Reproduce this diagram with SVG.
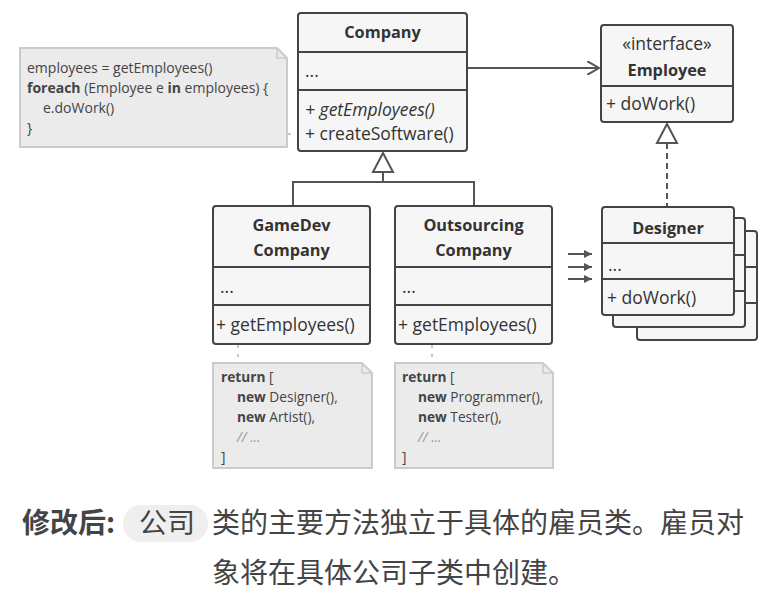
<svg xmlns="http://www.w3.org/2000/svg" width="767" height="597" viewBox="0 0 767 597">
<defs>
<style>
.box{fill:#f6f6f6;stroke:#444;stroke-width:2}
.div{stroke:#444;stroke-width:2;fill:none}
.ln{stroke:#555;stroke-width:2;fill:none}
.note{fill:#ebebeb;stroke:#cbcbcb;stroke-width:2}
.t{font-family:"Open Sans","Noto Sans",sans-serif;font-size:17.5px;fill:#333}
.b{font-weight:bold;font-size:16.3px}
.it{font-style:italic}
.n{font-family:"Open Sans","Noto Sans",sans-serif;font-size:14px;fill:#444}
.nb{font-size:13.7px}
.nb .b,.n .b{font-size:inherit}
.g{fill:#999;font-style:italic}
.cap{font-family:"Noto Sans CJK SC","Noto Sans",sans-serif;font-size:28px;fill:#444}
.dot{stroke:#c8c8c8;stroke-width:2;stroke-dasharray:3 6;fill:none}
</style>
<marker id="open" markerWidth="14" markerHeight="14" refX="12" refY="7" orient="auto" markerUnits="userSpaceOnUse">
<path d="M0,0 L12,7 L0,14" fill="none" stroke="#555" stroke-width="2"/>
</marker>
<marker id="small" markerWidth="8" markerHeight="8" refX="8" refY="4" orient="auto" markerUnits="userSpaceOnUse">
<path d="M0,0 L8,4 L0,8 z" fill="#555"/>
</marker>
</defs>

<g id="connectors">
<line class="ln" x1="467" y1="68" x2="599" y2="68" marker-end="url(#open)"/>
<path class="ln" d="M293,206 V182 H474 V206 M383,182 V172"/>
<path d="M383,153 L393,172 L373,172 z" fill="#fff" stroke="#555" stroke-width="2"/>
<line class="ln" x1="667" y1="143" x2="667" y2="206" stroke-dasharray="6 4"/>
<path d="M667,124 L677,143 L657,143 z" fill="#fff" stroke="#555" stroke-width="2"/>
<line class="ln" x1="568" y1="254" x2="592" y2="254" marker-end="url(#small)"/>
<line class="ln" x1="568" y1="267" x2="592" y2="267" marker-end="url(#small)"/>
<line class="ln" x1="568" y1="279" x2="592" y2="279" marker-end="url(#small)"/>
<line class="dot" x1="288" y1="134" x2="298" y2="134"/>
<line class="dot" x1="238" y1="345" x2="238" y2="363"/>
<line class="dot" x1="432" y1="345" x2="432" y2="363"/>
</g>

<g id="note-company">
<path class="note" d="M20,48 H277 L287,58 V147 H20 z"/>
<path d="M277,48 V58 H287" fill="none" stroke="#cbcbcb" stroke-width="1.5"/>
<text class="n" x="27" y="73">employees = getEmployees()</text>
<text class="n" x="27" y="93"><tspan class="b">foreach</tspan> (Employee e <tspan class="b">in</tspan> employees) {</text>
<text class="n" x="43" y="113">e.doWork()</text>
<text class="n" x="27" y="133">}</text>
</g>

<g id="company">
<rect class="box" x="298" y="13" width="169" height="138" rx="3"/>
<line class="div" x1="298" y1="52" x2="467" y2="52"/>
<line class="div" x1="298" y1="90" x2="467" y2="90"/>
<text class="t b" x="382.5" y="38" text-anchor="middle">Company</text>
<text class="t" x="305" y="77">...</text>
<text class="t it" x="305" y="116">+ getEmployees()</text>
<text class="t" x="305" y="140">+ createSoftware()</text>
</g>

<g id="employee">
<rect class="box" x="601" y="25" width="132" height="97" rx="3"/>
<line class="div" x1="601" y1="86" x2="733" y2="86"/>
<text class="t" x="667" y="50" text-anchor="middle">«interface»</text>
<text class="t b" x="667" y="76" text-anchor="middle">Employee</text>
<text class="t" x="606" y="110">+ doWork()</text>
</g>

<g id="gamedev">
<rect class="box" x="213" y="206" width="157" height="138" rx="3"/>
<line class="div" x1="213" y1="267" x2="370" y2="267"/>
<line class="div" x1="213" y1="305" x2="370" y2="305"/>
<text class="t b" x="291.5" y="231" text-anchor="middle">GameDev</text>
<text class="t b" x="291.5" y="256" text-anchor="middle">Company</text>
<text class="t" x="220" y="293">...</text>
<text class="t" x="216" y="331">+ getEmployees()</text>
</g>

<g id="outsourcing">
<rect class="box" x="395" y="206" width="157" height="138" rx="3"/>
<line class="div" x1="395" y1="267" x2="552" y2="267"/>
<line class="div" x1="395" y1="305" x2="552" y2="305"/>
<text class="t b" x="473.5" y="231" text-anchor="middle">Outsourcing</text>
<text class="t b" x="473.5" y="256" text-anchor="middle">Company</text>
<text class="t" x="402" y="293">...</text>
<text class="t" x="398" y="331">+ getEmployees()</text>
</g>

<g id="designer">
<rect class="box" x="637" y="231" width="120" height="109" rx="3"/>
<line class="div" x1="637" y1="267" x2="757" y2="267"/>
<line class="div" x1="637" y1="303" x2="757" y2="303"/>
<rect class="box" x="613" y="218" width="132" height="109" rx="3"/>
<line class="div" x1="613" y1="255" x2="745" y2="255"/>
<line class="div" x1="613" y1="291" x2="745" y2="291"/>
<rect class="box" x="602" y="207" width="132" height="108" rx="3"/>
<line class="div" x1="602" y1="243" x2="734" y2="243"/>
<line class="div" x1="602" y1="279" x2="734" y2="279"/>
<text class="t b" x="668" y="234" text-anchor="middle">Designer</text>
<text class="t" x="608" y="271">...</text>
<text class="t" x="607" y="304">+ doWork()</text>
</g>

<g id="note-gamedev">
<path class="note" d="M213,363 H362 L372,373 V468 H213 z"/>
<path d="M362,363 V373 H372" fill="none" stroke="#cbcbcb" stroke-width="1.5"/>
<text class="n nb" x="221" y="382"><tspan class="b">return</tspan> [</text>
<text class="n nb" x="237" y="402"><tspan class="b">new</tspan> Designer(),</text>
<text class="n nb" x="237" y="422"><tspan class="b">new</tspan> Artist(),</text>
<text class="n nb g" x="237" y="442">// ...</text>
<text class="n nb" x="221" y="462">]</text>
</g>

<g id="note-outsourcing">
<path class="note" d="M395,363 H543 L553,373 V468 H395 z"/>
<path d="M543,363 V373 H553" fill="none" stroke="#cbcbcb" stroke-width="1.5"/>
<text class="n nb" x="402" y="382"><tspan class="b">return</tspan> [</text>
<text class="n nb" x="418" y="402"><tspan class="b">new</tspan> Programmer(),</text>
<text class="n nb" x="418" y="422"><tspan class="b">new</tspan> Tester(),</text>
<text class="n nb g" x="418" y="442">// ...</text>
<text class="n nb" x="402" y="462">]</text>
</g>

<g id="caption">
<rect x="123" y="505" width="85" height="37" rx="18" fill="#efefef"/>
<text class="cap" x="22" y="533" font-weight="bold" fill="#333">修改后:</text>
<text class="cap" x="139" y="533">公司</text>
<text class="cap" x="212" y="533">类的主要方法独立于具体的雇员类。雇员对</text>
<text class="cap" x="212" y="583">象将在具体公司子类中创建。</text>
</g>
</svg>
